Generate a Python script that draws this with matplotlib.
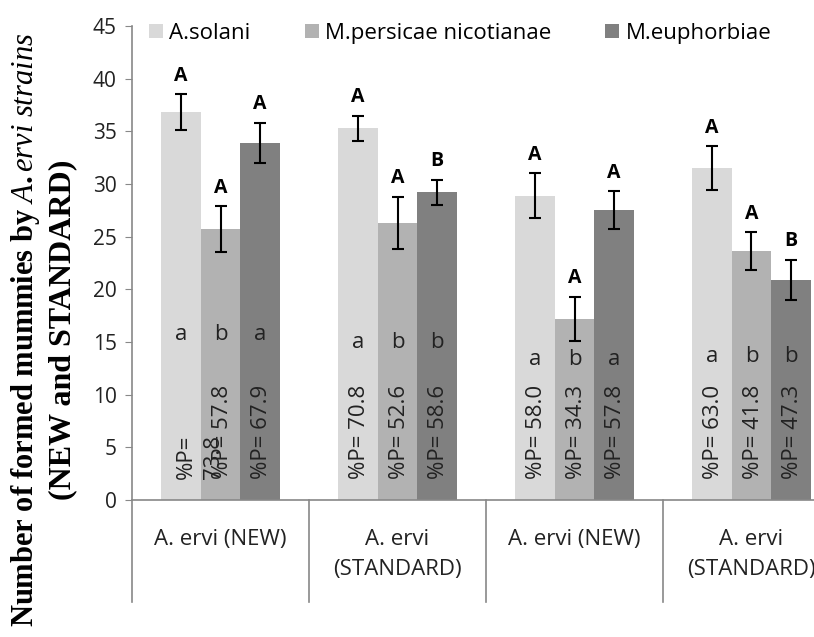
import numpy as np
import matplotlib.pyplot as plt
from matplotlib import transforms

plt.rcParams['font.family'] = ['Open Sans', 'DejaVu Sans']
plt.rcParams['mathtext.fontset'] = 'custom'
plt.rcParams['mathtext.rm'] = 'Liberation Serif:bold'
plt.rcParams['mathtext.it'] = 'Liberation Serif:italic'

groups = ['A. ervi (NEW)', 'A. ervi\n(STANDARD)', 'A. ervi (NEW)', 'A. ervi\n(STANDARD)']
series = ['A.solani', 'M.persicae nicotianae', 'M.euphorbiae']
colors = ['#d9d9d9', '#b2b2b2', '#808080']

# rows = series, columns = groups
means = np.array([[36.8, 35.3, 28.9, 31.5],
                  [25.7, 26.3, 17.2, 23.6],
                  [33.9, 29.2, 27.5, 20.9]])
errs = np.array([[1.7, 1.2, 2.1, 2.1],
                 [2.2, 2.5, 2.1, 1.8],
                 [1.9, 1.2, 1.8, 1.9]])
upper = [['A', 'A', 'A', 'A'],
         ['A', 'A', 'A', 'A'],
         ['A', 'B', 'A', 'B']]
lower = [['a', 'a', 'a', 'a'],
         ['b', 'b', 'b', 'b'],
         ['a', 'b', 'a', 'b']]
lower_y = [15.7, 15.0, 13.3, 13.6]
pct = [[73.8, 70.8, 58.0, 63.0],
       [57.8, 52.6, 34.3, 41.8],
       [67.9, 58.6, 57.8, 47.3]]

fig = plt.figure(figsize=(8.14, 6.37), dpi=100)
ax = fig.add_axes([132/814, 137/637, 708/814, 474/637])

x = np.arange(len(groups))
w = 0.223
fs = 16
for i in range(3):
    xs = x + (i - 1) * w
    ax.bar(xs, means[i], w, color=colors[i], label=series[i], zorder=2)
    ax.errorbar(xs, means[i], yerr=errs[i], fmt='none', ecolor='black',
                elinewidth=1.5, capsize=4, capthick=1.5, zorder=3)
    for j in range(len(groups)):
        ax.text(xs[j], means[i][j] + errs[i][j] + 0.8, upper[i][j],
                ha='center', va='bottom', fontsize=14, fontweight='bold')
        ax.text(xs[j], lower_y[j], lower[i][j], ha='center', va='center',
                fontsize=fs, color='#222222')
        if i == 0 and j == 0:
            # this label wrapped in the original
            ax.text(xs[j] + 0.105, 2.0, '%P=\n' + f'{pct[i][j]:.1f}', rotation=90,
                    ha='center', va='bottom', fontsize=fs, color='#222222',
                    multialignment='left', linespacing=1.4)
        else:
            ax.text(xs[j] + 0.01, 2.0, f'%P= {pct[i][j]:.1f}', rotation=90,
                    ha='center', va='bottom', fontsize=fs, color='#222222')

ax.set_xlim(-0.5, 3.5)
ax.set_ylim(0, 45)
ax.set_yticks(np.arange(0, 46, 5))
ax.tick_params(axis='y', labelsize=15, colors='#888888', labelcolor='#222222',
               length=5, pad=6)
ax.set_xticks(x)
ax.set_xticklabels(groups, fontsize=fs, color='#222222', linespacing=1.55)
ax.tick_params(axis='x', length=0, pad=21)

for s in ['top', 'right']:
    ax.spines[s].set_visible(False)
for s in ['left', 'bottom']:
    ax.spines[s].set_color('#888888')
    ax.spines[s].set_linewidth(1.2)

# category separators below the axis
trans = transforms.blended_transform_factory(ax.transData, ax.transAxes)
for b in [-0.5, 0.5, 1.5, 2.5, 3.5]:
    ax.plot([b, b], [0, -0.215], transform=trans, color='#888888', lw=1.2,
            clip_on=False)

ax.legend(loc='center left', bbox_to_anchor=(0.024, 0.985), ncol=3, frameon=False,
          fontsize=fs, handlelength=0.63, handleheight=0.63, handletextpad=0.27,
          columnspacing=2.45, borderaxespad=0, borderpad=0)

fig.text(33/814, 0.482, r'$\mathrm{Number\ of\ formed\ mummies\ by\ }\mathit{A.ervi\ strains}$',
         rotation=90, rotation_mode='anchor', ha='center', va='baseline', fontsize=22)
fig.text(70/814, 0.482, '(NEW and STANDARD)', rotation=90, rotation_mode='anchor',
         ha='center', va='baseline', fontsize=23, fontweight='bold',
         family='Liberation Serif')

fig.savefig('out.png', dpi=100)
